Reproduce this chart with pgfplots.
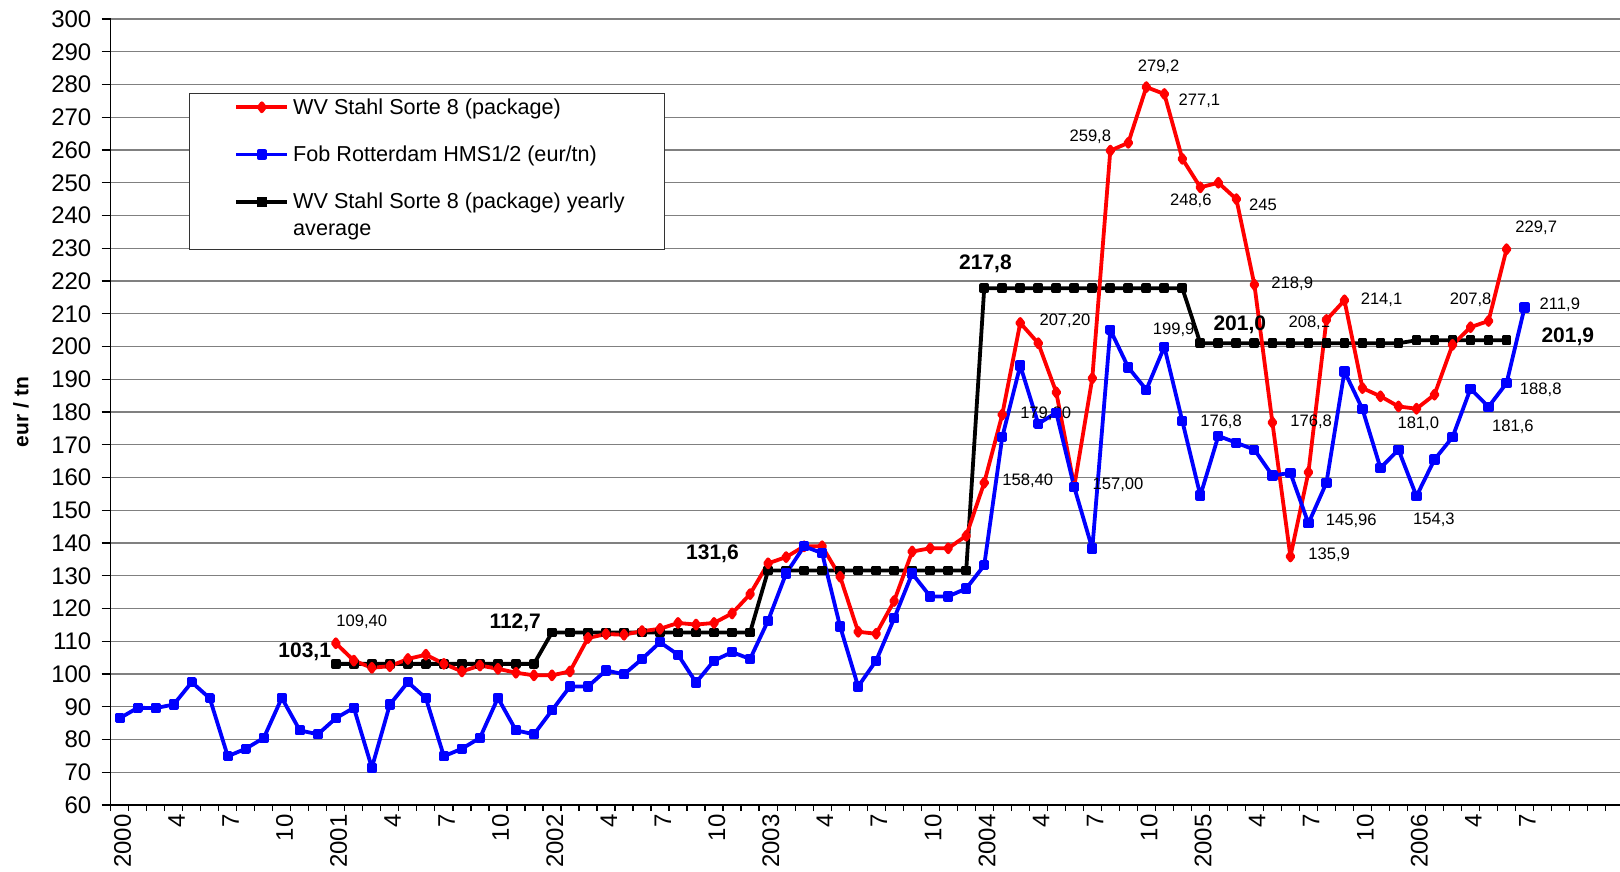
\documentclass[border=0pt]{standalone}
\usepackage{fontspec}
\setmainfont{Liberation Sans}
\usepackage{pgfplots}
\pgfplotsset{compat=1.18}
\usetikzlibrary{calc}
\definecolor{gridgray}{RGB}{128,128,128}
\definecolor{xred}{RGB}{255,0,0}
\definecolor{xblue}{RGB}{0,0,255}

\begin{document}
\begin{tikzpicture}
\begin{axis}[
  name=ax, scale only axis, width=754.6pt, height=393pt,
  xmin=-0.5, xmax=83.3, ymin=60, ymax=300,
  axis x line*=bottom, axis y line*=left,
  axis line style={line width=0.6pt},
  ytick={60,70,...,300},
  xtick={0,3,...,78},
  xticklabels={2000,4,7,10,2001,4,7,10,2002,4,7,10,2003,4,7,10,2004,4,7,10,2005,4,7,10,2006,4,7},
  minor xtick={-0.5,0.5,...,82.5},
  major x tick style={draw=none},
  tick align=outside, major tick length=4.5pt, minor tick length=3pt,
  tick style={black, line width=0.6pt},
  ymajorgrids, grid style={gridgray, line width=0.6pt},
  /pgf/number format/assume math mode=true,
  ticklabel style={font=\fontsize{12}{14}\selectfont},
  xticklabel style={rotate=90, anchor=east, inner sep=0pt, yshift=-1.4pt},
  yticklabel style={inner sep=0pt, xshift=-5pt},
  ylabel={eur / tn},
  ylabel style={font=\fontsize{10.5}{12}\selectfont\bfseries, at={(axis description cs:-0.0594,0.5)}, anchor=center},
  legend style={at={(axis description cs:0.0521,0.9053)}, anchor=north west,
    draw=black!80, fill=white, inner xsep=13.4pt, inner ysep=0.5pt,
    row sep=10.3pt, column sep=0pt, font=\fontsize{10.8}{13.5}\selectfont,
    cells={anchor=base west}},
  legend image code/.code={\path (-8.95pt,3.6pt);
    \draw[mark repeat=2, mark phase=2, #1] plot coordinates {(0pt,3.6pt) (12.75pt,3.6pt) (25.5pt,3.6pt)};},
]
% yearly average (drawn first, legend added at the end)
\addplot[black, line width=1.9pt, line join=round, mark=square*, mark size=1.5pt, forget plot] coordinates {
(12,103.1)(13,103.1)(14,103.1)(15,103.1)(16,103.1)(17,103.1)(18,103.1)(19,103.1)(20,103.1)(21,103.1)(22,103.1)(23,103.1)
(24,112.7)(25,112.7)(26,112.7)(27,112.7)(28,112.7)(29,112.7)(30,112.7)(31,112.7)(32,112.7)(33,112.7)(34,112.7)(35,112.7)
(36,131.6)(37,131.6)(38,131.6)(39,131.6)(40,131.6)(41,131.6)(42,131.6)(43,131.6)(44,131.6)(45,131.6)(46,131.6)(47,131.6)
(48,217.8)(49,217.8)(50,217.8)(51,217.8)(52,217.8)(53,217.8)(54,217.8)(55,217.8)(56,217.8)(57,217.8)(58,217.8)(59,217.8)
(60,201.0)(61,201.0)(62,201.0)(63,201.0)(64,201.0)(65,201.0)(66,201.0)(67,201.0)(68,201.0)(69,201.0)(70,201.0)(71,201.0)
(72,201.9)(73,201.9)(74,201.9)(75,201.9)(76,201.9)(77,201.9)
};
% WV Stahl Sorte 8 (package)
\addplot[xred, line width=1.9pt, line join=round, mark=diamond*, mark size=2pt, mark options={solid, fill=xred}] coordinates {
(12,109.4)(13,104.1)(14,101.9)(15,102.4)(16,104.6)(17,105.9)(18,103.1)(19,100.8)(20,102.6)(21,101.6)(22,100.4)(23,99.6)
(24,99.6)(25,100.8)(26,111.0)(27,112.2)(28,112.0)(29,113.1)(30,113.8)(31,115.6)(32,115.1)(33,115.6)(34,118.5)(35,124.4)
(36,133.8)(37,135.7)(38,139.0)(39,139.0)(40,129.7)(41,112.9)(42,112.3)(43,122.3)(44,137.4)(45,138.4)(46,138.4)(47,142.2)
(48,158.4)(49,179.2)(50,207.2)(51,201.0)(52,186.0)(53,157.3)(54,190.3)(55,259.8)(56,262.2)(57,279.2)(58,277.1)(59,257.3)
(60,248.6)(61,250.0)(62,245.0)(63,218.9)(64,176.8)(65,135.9)(66,161.6)(67,208.1)(68,214.1)(69,187.3)(70,184.8)(71,181.7)
(72,181.0)(73,185.3)(74,200.5)(75,205.9)(76,207.8)(77,229.7)
};
\addlegendentry{WV Stahl Sorte 8 (package)}
% Fob Rotterdam HMS1/2
\addplot[xblue, line width=1.9pt, line join=round, mark=square*, mark size=1.6pt, mark options={solid, fill=xblue}] coordinates {
(0,86.5)(1,89.7)(2,89.6)(3,90.7)(4,97.5)(5,92.6)(6,74.9)(7,77.2)(8,80.5)(9,92.7)(10,82.8)(11,81.6)
(12,86.5)(13,89.7)(14,71.4)(15,90.7)(16,97.5)(17,92.6)(18,74.9)(19,77.2)(20,80.5)(21,92.7)(22,82.8)(23,81.6)
(24,88.9)(25,96.2)(26,96.2)(27,101.1)(28,99.9)(29,104.6)(30,109.7)(31,105.9)(32,97.4)(33,104.1)(34,106.7)(35,104.6)
(36,116.3)(37,130.7)(38,139.0)(39,136.9)(40,114.5)(41,96.2)(42,104.1)(43,117.0)(44,130.7)(45,123.7)(46,123.7)(47,126.1)
(48,133.2)(49,172.3)(50,194.2)(51,176.4)(52,179.8)(53,157.0)(54,138.3)(55,205.1)(56,193.6)(57,186.8)(58,199.9)(59,177.2)
(60,154.5)(61,172.7)(62,170.6)(63,168.5)(64,160.6)(65,161.4)(66,146.0)(67,158.4)(68,192.4)(69,180.9)(70,162.9)(71,168.5)
(72,154.3)(73,165.5)(74,172.3)(75,187.1)(76,181.6)(77,188.8)(78,211.9)
};
\addlegendentry{Fob Rotterdam HMS1/2 (eur/tn)}
\addlegendimage{legend image code/.code={\path (-8.95pt,-19.4pt);
    \draw[black, line width=1.9pt, mark=square*, mark size=1.5pt, mark repeat=2, mark phase=2] plot coordinates {(0pt,3.6pt) (12.75pt,3.6pt) (25.5pt,3.6pt)};}}
\addlegendentry{\parbox[t]{170pt}{WV Stahl Sorte 8 (package) yearly\\average}}

% value labels
\begin{scope}[every node/.style={font=\fontsize{8.3}{10}\selectfont, inner sep=0pt}]
\node at (axis cs:13.44,116.0) {109,40};
\node at (axis cs:52.48,207.8) {207,20};
\node at (axis cs:51.41,179.6) {179,80};
\node at (axis cs:50.42,158.9) {158,40};
\node at (axis cs:55.43,157.7) {157,00};
\node at (axis cs:53.89,264.1) {259,8};
\node at (axis cs:57.68,285.4) {279,2};
\node at (axis cs:59.95,275.0) {277,1};
\node at (axis cs:59.47,244.4) {248,6};
\node at (axis cs:63.48,243.2) {245};
\node at (axis cs:58.52,205.2) {199,9};
\node at (axis cs:61.15,177.0) {176,8};
\node at (axis cs:65.10,219.3) {218,9};
\node at (axis cs:66.05,207.2) {208,1};
\node at (axis cs:66.15,177.0) {176,8};
\node at (axis cs:68.38,146.7) {145,96};
\node at (axis cs:67.15,136.3) {135,9};
\node at (axis cs:70.06,214.4) {214,1};
\node at (axis cs:72.10,176.5) {181,0};
\node at (axis cs:72.97,147.2) {154,3};
\node at (axis cs:75.01,214.4) {207,8};
\node at (axis cs:78.65,236.4) {229,7};
\node at (axis cs:79.96,212.6) {211,9};
\node at (axis cs:78.90,186.9) {188,8};
\node at (axis cs:77.35,175.5) {181,6};
\end{scope}
\begin{scope}[every node/.style={font=\fontsize{10.5}{12}\selectfont\bfseries, inner sep=0pt}]
\node at (axis cs:10.27,106.8) {103,1};
\node at (axis cs:21.96,115.5) {112,7};
\node at (axis cs:32.91,136.6) {131,6};
\node at (axis cs:48.07,225.4) {217,8};
\node at (axis cs:62.19,206.6) {201,0};
\node at (axis cs:80.40,203.0) {201,9};
\end{scope}
\end{axis}
\pgfresetboundingbox
\path[use as bounding box] ($(ax.south west)+(-55.35pt,-33pt)$) rectangle ($(ax.north east)+(0pt,9.5pt)$);
\end{tikzpicture}
\end{document}
